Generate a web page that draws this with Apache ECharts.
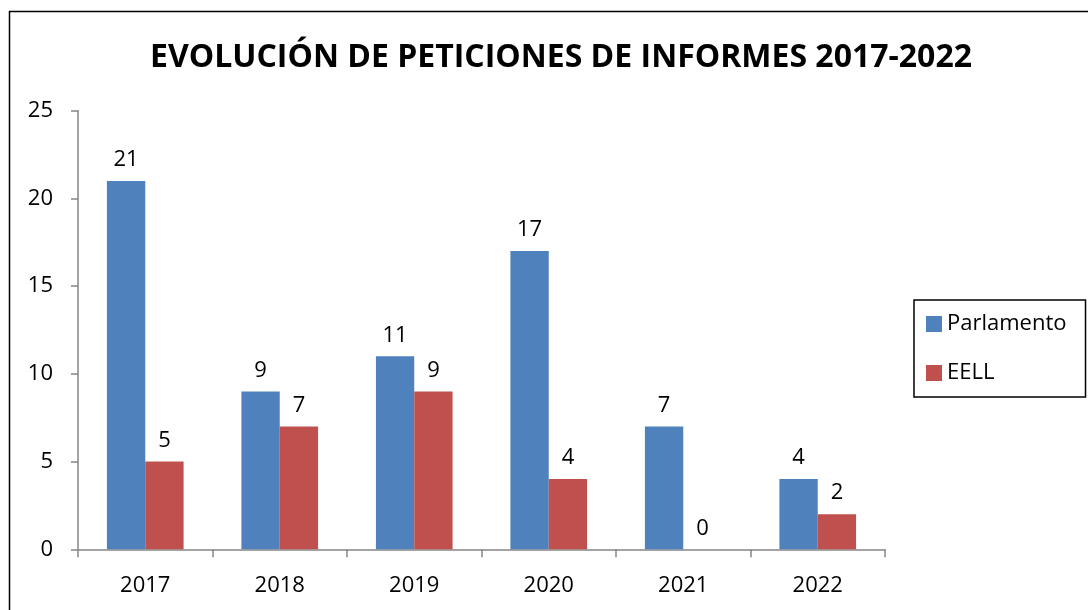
<!DOCTYPE html>
<html><head><meta charset="utf-8">
<style>html,body{margin:0;padding:0;background:#fff}#c{width:1088px;height:610px}</style>
<script src="https://cdn.jsdelivr.net/npm/echarts@6/dist/echarts.min.js"></script>
</head><body><div id="c"></div>
<script>
var categories = ['2017','2018','2019','2020','2021','2022'];
var parlamento = [21, 9, 11, 17, 7, 4];
var eell = [5, 7, 9, 4, 0, 2];
var seriesNames = ['Parlamento', 'EELL'];
var titleText = 'EVOLUCIÓN DE PETICIONES DE INFORMES 2017-2022';

var font = 'Open Sans';
var chart = echarts.init(document.getElementById('c'));
var lbl = {show: true, position: 'top', distance: 10, fontFamily: font, fontSize: 22, color: '#000'};
chart.setOption({
  animation: false,
  graphic: [{type: 'rect', shape: {x: 9.5, y: 11.5, width: 1100, height: 640}, style: {fill: 'none', stroke: '#000', lineWidth: 1.5}, silent: true}],
  title: {text: titleText, left: 556, top: 37, textAlign: 'center',
    textStyle: {fontFamily: font, fontWeight: 'bold', fontSize: 32, color: '#000'}},
  legend: {orient: 'vertical', left: 914, top: 300, itemWidth: 16, itemHeight: 16, itemGap: 27,
    padding: [13, 19, 13, 12], borderColor: '#000', borderWidth: 1.5, icon: 'rect',
    textStyle: {fontFamily: font, fontSize: 22, color: '#000'}, data: seriesNames},
  grid: {left: 78, right: 203, top: 110.7, bottom: 60.7},
  xAxis: {type: 'category', data: categories,
    axisLine: {lineStyle: {color: '#868686', width: 1.5}},
    axisTick: {show: true, length: 8, lineStyle: {color: '#868686', width: 1.5}},
    axisLabel: {fontFamily: font, fontSize: 22, color: '#000', margin: 25}},
  yAxis: {type: 'value', min: 0, max: 25, interval: 5,
    axisLine: {show: true, lineStyle: {color: '#868686', width: 1.5}},
    axisTick: {show: true, length: 7, lineStyle: {color: '#868686', width: 1.5}},
    splitLine: {show: false},
    axisLabel: {fontFamily: font, fontSize: 22, color: '#000', margin: 25}},
  series: [
    {name: seriesNames[0], type: 'bar', data: parlamento, barGap: '0%', barCategoryGap: '43%',
     itemStyle: {color: '#4F81BD'}, label: lbl},
    {name: seriesNames[1], type: 'bar', data: eell, barGap: '0%', barCategoryGap: '43%',
     itemStyle: {color: '#C0504D'}, label: lbl}
  ]
});
</script></body></html>
